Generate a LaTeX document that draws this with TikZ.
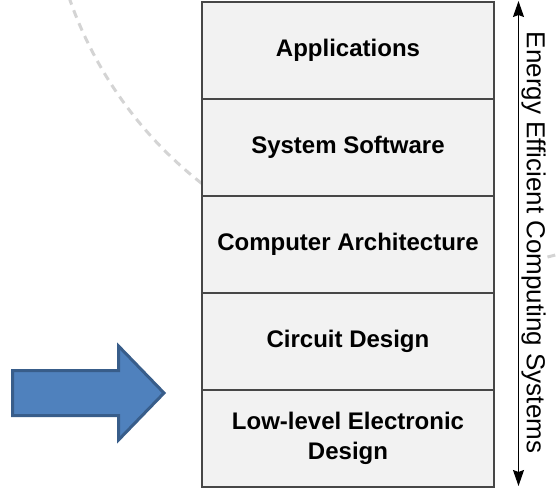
\documentclass[tikz,border=0pt]{standalone}
\usepackage{fontspec}
\setmainfont{Liberation Sans}
\usetikzlibrary{arrows.meta,calc,positioning}
\definecolor{layerfill}{HTML}{F2F2F2}
\definecolor{arrowfill}{HTML}{4F81BD}
\definecolor{arrowline}{HTML}{385D8A}

\begin{document}
\begin{tikzpicture}[x=1pt,y=-1pt,node distance=0pt,
	layer/.style={draw=black!72,line width=1.4pt,fill=layerfill,outer sep=0pt,inner sep=0pt,
		minimum width=292pt,minimum height=97pt,align=center,font=\fontsize{24}{30}\selectfont\bfseries},
	ring/.style={draw=black!17,line width=3pt,dash pattern=on 8pt off 6pt},
	bigarrow/.style={fill=arrowfill,draw=arrowline,line width=3pt,line join=miter}]
			\useasboundingbox (0,0) rectangle (558,490);
			% faint dashed ring behind the stack
			\coordinate (ringc) at (450,-134);
			\begin{scope}
				\clip (0,0) rectangle (558,490);
				\draw[ring] (ringc) ++(165:403) arc[start angle=165,end angle=125,radius=403];
				\draw[ring] (ringc) ++(76:403) arc[start angle=76,end angle=72,radius=403];
			\end{scope}
			% layers
			\node[layer] (apps) at (348,50.5) {Applications};
			\node[layer] [below=of apps] (syssw) {System Software};
			\node[layer] [below=of syssw] (arch) {Computer Architecture};
			\node[layer] [below=of arch] (circuit) {Circuit Design};
			\node[layer] [below=of circuit] (lowlevel) {Low-level Electronic\\Design};
			% span arrow and its label
			\coordinate (spantop) at (518.5,1);
			\coordinate (spanbot) at (518.5,486);
			\draw[{Stealth[length=16pt,width=11pt,inset=2pt]}-{Stealth[length=16pt,width=11pt,inset=2pt]},line width=1.3pt]
				(spantop) -- (spanbot);
			\node[rotate=-90,inner sep=0pt,font=\fontsize{26}{30}\selectfont] (span) at (533.5,242.5) {Energy Efficient Computing Systems};
			% blue pointer
			\draw[bigarrow] (12.5,370.5) -- (118.5,370.5) -- (118.5,346) -- (164,393)
				-- (118.5,440) -- (118.5,415.5) -- (12.5,415.5) -- cycle;
		\end{tikzpicture}
\end{document}
